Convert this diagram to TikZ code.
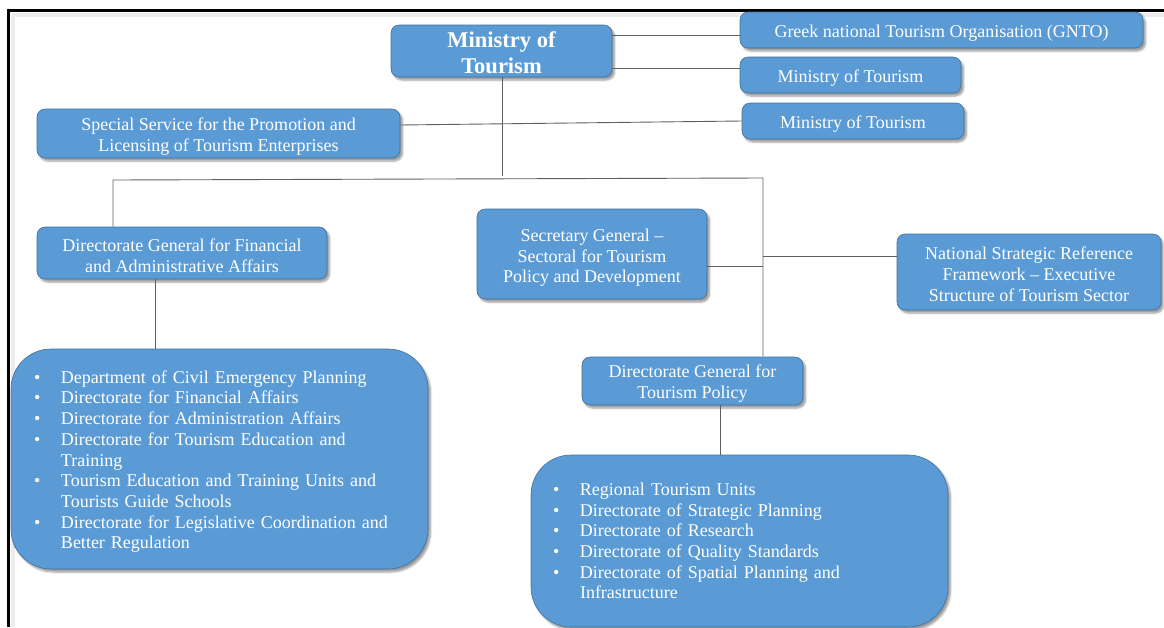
\documentclass[tikz,border=0pt]{standalone}
\usepackage{fontspec}
\setmainfont{Liberation Serif}
\usetikzlibrary{shadows.blur}
\definecolor{boxblue}{RGB}{91,155,213}
\definecolor{boxedge}{RGB}{65,113,156}
\definecolor{linegray}{RGB}{95,95,95}
\newcommand{\bl}{\makebox[27pt][l]{\textbullet}}
\newcommand{\ind}{\hspace*{27pt}}
\newcommand{\dn}[1]{\rule{0pt}{#1}}
\begin{document}
\begin{tikzpicture}[x=1pt,y=-1pt,
  box/.style={draw=boxedge, line width=0.6pt, fill=boxblue, rounded corners=8pt,
    text=white, align=center, inner sep=0pt,
    font=\fontsize{18}{20.7}\selectfont,
    blur shadow={shadow xshift=2.5pt, shadow yshift=-3pt, shadow blur steps=6, shadow opacity=40}},
  down/.style={execute at begin node={\rule{0pt}{#1}}},
  listbox/.style={box, rounded corners=40pt, align=left},
  conn/.style={draw=linegray, line width=0.9pt}]

\useasboundingbox (0,0) rectangle (1164,627);

% frame
\draw[gray!15, line width=4pt] (12,15) -- (1164,15);
\draw[gray!15, line width=4pt] (13,14) -- (13,627);
\draw[line width=3pt] (7,10) -- (1164,10);
\draw[line width=3pt] (8.5,9) -- (8.5,627);

% nodes
\node[box, minimum width=221pt, minimum height=52pt,
      font=\fontsize{22.5}{26}\selectfont\bfseries] (main) at (501.5,51) {\dn{19pt}Ministry of\\Tourism};
\node[box, down=18pt, minimum width=403pt, minimum height=36pt] (gnto) at (941.5,30) {Greek national\ Tourism\ Organisation\ (GNTO)};
\node[box, down=18pt, minimum width=221pt, minimum height=36pt] (mot2) at (850.5,75) {Ministry of Tourism};
\node[box, down=18pt, minimum width=222pt, minimum height=36pt] (mot3) at (853,121) {Ministry of Tourism};
\node[box, minimum width=363pt, minimum height=49pt] (special) at (218.5,133.5) {\dn{19pt}Special Service for the Promotion and\\Licensing of Tourism Enterprises};
\node[box, minimum width=290pt, minimum height=52pt] (dgfin) at (182,253) {\dn{18pt}Directorate General for Financial\\and Administrative Affairs};
\node[box, minimum width=230pt, minimum height=90pt] (secgen) at (592,254) {\dn{20pt}Secretary General --\\Sectoral for Tourism\\Policy and Development};
\node[box, minimum width=264pt, minimum height=76pt] (nsrf) at (1029,272) {\dn{17pt}National Strategic Reference\\Framework -- Executive\\Structure of Tourism Sector};
\node[box, minimum width=221pt, minimum height=48pt] (dgtp) at (692.5,381) {\dn{18pt}Directorate General for\\Tourism Policy};

\node[listbox, down=18pt, text width=371pt, inner xsep=23pt, minimum height=220pt] (leftlist) at (219.5,459)
 {\bl Department of Civil Emergency Planning\\
  \bl Directorate for Financial Affairs\\
  \bl Directorate for Administration Affairs\\
  \bl Directorate for Tourism Education and\\
  \ind Training\\
  \bl Tourism Education and Training Units and\\
  \ind Tourists Guide Schools\\
  \bl Directorate for Legislative Coordination and\\
  \ind Better Regulation};

\node[listbox, text width=373pt, inner xsep=22pt, minimum height=172pt] (rightlist) at (739.5,541)
 {\bl Regional Tourism Units\\
  \bl Directorate of Strategic Planning\\
  \bl Directorate of Research\\
  \bl Directorate of Quality Standards\\
  \bl Directorate of Spatial Planning and\\
  \ind Infrastructure};

% junctions
\coordinate (jm) at (502,176);
\coordinate (jl) at (113,180);
\coordinate (jr) at (763,178);
\coordinate (jf) at (155,0);
\coordinate (jt) at (720,0);

% connectors
\draw[conn] (main.east |- 0,35) -- (gnto.west |- 0,35);
\draw[conn] (main.east |- 0,68) -- (mot2.west |- 0,68);
\draw[conn] (special.east |- 0,125) -- (mot3.west |- 0,121);
\draw[conn] (main.south -| jm) -- (jm);
\draw[conn] (dgfin.north -| jl) -- (jl) -- (jr) -- (dgtp.north -| jr);
\draw[conn] (secgen.east |- 0,266) -- (jr |- 0,266);
\draw[conn] (nsrf.west |- 0,256) -- (jr |- 0,256);
\draw[conn] (dgfin.south -| jf) -- (leftlist.north -| jf);
\draw[conn] (dgtp.south -| jt) -- (rightlist.north -| jt);
\end{tikzpicture}
\end{document}
